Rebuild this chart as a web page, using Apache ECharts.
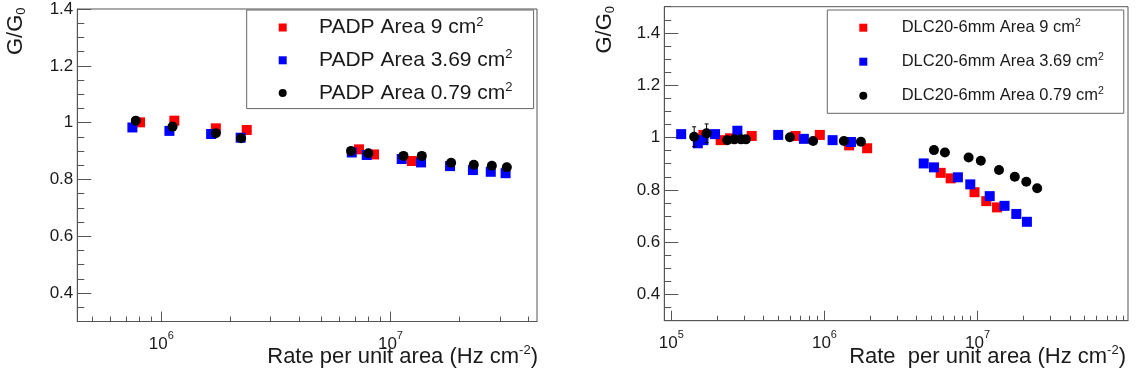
<!DOCTYPE html>
<html><head><meta charset="utf-8">
<script src="https://cdn.jsdelivr.net/npm/echarts@6/dist/echarts.min.js"></script>
<style>html,body{margin:0;padding:0;background:#fff}#c{width:1136px;height:379px}</style>
</head><body><div id="c"></div>
<script>
// ---------- data ----------
const padpNames = ['PADP Area 9 cm²', 'PADP Area 3.69 cm²', 'PADP Area 0.79 cm²'];
const padpRate9   = [8.08e5, 1.14e6, 1.73e6, 2.36e6, 7.29e6, 8.48e6, 1.24e7];
const padpGain9   = [1.001, 1.007, 0.980, 0.974, 0.906, 0.888, 0.865];
const padpRate369 = [7.48e5, 1.085e6, 1.65e6, 2.22e6, 6.78e6, 7.88e6, 1.12e7, 1.36e7, 1.82e7, 2.29e7, 2.74e7, 3.18e7];
const padpGain369 = [0.983, 0.971, 0.960, 0.947, 0.895, 0.886, 0.872, 0.860, 0.847, 0.833, 0.827, 0.822];
const padpRate079 = [7.74e5, 1.12e6, 1.73e6, 2.23e6, 6.73e6, 8.01e6, 1.14e7, 1.37e7, 1.84e7, 2.31e7, 2.77e7, 3.22e7];
const padpGain079 = [1.007, 0.986, 0.963, 0.945, 0.900, 0.892, 0.883, 0.883, 0.859, 0.852, 0.848, 0.843];

const dlcNames = ['DLC20-6mm Area 9 cm²', 'DLC20-6mm Area 3.69 cm²', 'DLC20-6mm Area 0.79 cm²'];
const dlcRate9   = [1.62e5, 2.10e5, 2.42e5, 3.35e5, 6.48e5, 9.33e5, 1.45e6, 1.90e6, 5.74e6, 6.67e6, 9.55e6, 1.14e7, 1.34e7];
const dlcGain9   = [1.010, 0.990, 0.997, 1.006, 1.006, 1.010, 0.970, 0.959, 0.865, 0.844, 0.791, 0.757, 0.733];
const dlcRate369 = [1.16e5, 1.49e5, 1.62e5, 1.93e5, 2.70e5, 4.99e5, 7.34e5, 1.13e6, 1.49e6, 4.45e6, 5.19e6, 7.44e6, 8.96e6, 1.20e7, 1.50e7, 1.79e7, 2.10e7];
const dlcGain369 = [1.013, 0.978, 0.990, 1.013, 1.026, 1.010, 0.995, 0.990, 0.983, 0.901, 0.886, 0.848, 0.821, 0.776, 0.739, 0.708, 0.678];
const dlcRate079 = [1.41e5, 1.70e5, 2.32e5, 2.58e5, 2.85e5, 3.07e5, 5.95e5, 8.43e5, 1.34e6, 1.73e6, 5.19e6, 6.12e6, 8.74e6, 1.05e7, 1.38e7, 1.75e7, 2.08e7, 2.45e7];
const dlcGain079 = [1.003, 1.016, 0.990, 0.993, 0.993, 0.993, 1.001, 0.987, 0.987, 0.984, 0.952, 0.943, 0.924, 0.911, 0.876, 0.850, 0.831, 0.806];
const dlcErr079  = [0.038, 0.036, 0.012, 0.008, 0, 0, 0, 0, 0, 0, 0, 0, 0, 0, 0, 0, 0, 0];

// ---------- axis ticks & titles ----------
const leftXRange = [4.3e5, 4.36e7];
const rightXRange = [9.0e4, 9.6e7];
const leftYRange = [0.3, 1.4];
const rightYRange = [0.3, 1.5];
const leftXMajor = [1e6, 1e7];
const leftXMinor = [5e5, 6e5, 7e5, 8e5, 9e5, 2e6, 3e6, 4e6, 5e6, 6e6, 7e6, 8e6, 9e6, 2e7, 3e7, 4e7];
const rightXMajor = [1e5, 1e6, 1e7];
const rightXMinor = [2e5, 3e5, 4e5, 5e5, 6e5, 7e5, 8e5, 9e5, 2e6, 3e6, 4e6, 5e6, 6e6, 7e6, 8e6, 9e6, 2e7, 3e7, 4e7, 5e7, 6e7, 7e7, 8e7, 9e7];
const leftYMajor = [0.4, 0.6, 0.8, 1, 1.2, 1.4];
const rightYMajor = [0.4, 0.6, 0.8, 1, 1.2, 1.4];
const leftYMinor = [0.3, 0.35, 0.45, 0.5, 0.55, 0.65, 0.7, 0.75, 0.85, 0.9, 0.95, 1.05, 1.1, 1.15, 1.25, 1.3, 1.35];
const rightYMinor = [0.3, 0.35, 0.45, 0.5, 0.55, 0.65, 0.7, 0.75, 0.85, 0.9, 0.95, 1.05, 1.1, 1.15, 1.25, 1.3, 1.35, 1.45, 1.5];
const xTitleLeft = 'Rate per unit area (Hz cm{sup|-2})';
const xTitleRight = 'Rate  per unit area (Hz cm{sup|-2})';
const yTitle = 'G/G{sub|0}';

// ---------- styling ----------
const FONT = "'Liberation Sans', Arial, Helvetica, sans-serif";
const TXT = '#1a1a1a';
const AX = '#555';
const COLORS = ['#ff0000', '#0000ff', '#000000'];

function zip(xs, ys) { return xs.map((x, i) => [x, ys[i]]); }
function supLegend(n) { return n.replace('²', '{sup|2}'); }
function powLabel(v) { return '{b|10}{s|' + Math.round(Math.log10(v)) + '}'; }
function yLab(v) { return String(parseFloat(Number(v).toFixed(2))); }

const tickRich = {
  b: { fontSize: 17, fontFamily: FONT, color: TXT, lineHeight: 22, verticalAlign: 'bottom' },
  s: { fontSize: 11, fontFamily: FONT, color: TXT, lineHeight: 11, verticalAlign: 'top' }
};
function xTitle(text, right) {
  return {
    text: text, right: right, top: 344, padding: 0, itemGap: 0,
    textStyle: {
      fontSize: 22, fontWeight: 'normal', fontFamily: FONT, color: TXT, lineHeight: 26,
      rich: { sup: { fontSize: 13, fontFamily: FONT, color: TXT, lineHeight: 12, verticalAlign: 'top' } }
    }
  };
}
function yTitleGraphic(x, y) {
  return {
    type: 'text', x: x, y: y, rotation: Math.PI / 2, silent: true,
    style: {
      text: yTitle, align: 'right', verticalAlign: 'bottom',
      fontSize: 22, fontFamily: FONT, fill: TXT, lineHeight: 24,
      rich: { sub: { fontSize: 13, fontFamily: FONT, fill: TXT, lineHeight: 14, verticalAlign: 'bottom' } }
    }
  };
}

function mainX(gi, range, major) {
  return {
    type: 'log', logBase: 10, gridIndex: gi, min: range[0], max: range[1], position: 'bottom', offset: 0,
    axisLine: { show: true, lineStyle: { color: AX, width: 1 } },
    axisTick: { show: true, inside: true, length: 10, customValues: major, lineStyle: { color: AX } },
    axisLabel: { show: true, customValues: major, margin: 9, formatter: powLabel, rich: tickRich },
    splitLine: { show: false }, minorTick: { show: false }
  };
}
function minorX(gi, range, minor) {
  return {
    type: 'log', logBase: 10, gridIndex: gi, min: range[0], max: range[1], position: 'bottom', offset: 0,
    axisLine: { show: false },
    axisTick: { show: true, inside: true, length: 5, customValues: minor, lineStyle: { color: AX } },
    axisLabel: { show: false }, splitLine: { show: false }
  };
}
function mainY(gi, range, major) {
  return {
    type: 'value', gridIndex: gi, min: range[0], max: range[1], position: 'left', offset: 0,
    axisLine: { show: true, lineStyle: { color: AX, width: 1 } },
    axisTick: { show: true, inside: true, length: 14, customValues: major, lineStyle: { color: AX } },
    axisLabel: { show: true, customValues: major, margin: 4, formatter: yLab, fontSize: 17, fontFamily: FONT, color: TXT },
    splitLine: { show: false }
  };
}
function minorY(gi, range, minor) {
  return {
    type: 'value', gridIndex: gi, min: range[0], max: range[1], position: 'left', offset: 0,
    axisLine: { show: false },
    axisTick: { show: true, inside: true, length: 7, customValues: minor, lineStyle: { color: AX } },
    axisLabel: { show: false }, splitLine: { show: false }
  };
}
function scatter(name, xi, yi, data, ci) {
  return {
    type: 'scatter', name: name, xAxisIndex: xi, yAxisIndex: yi, data: data,
    symbol: ci === 2 ? 'circle' : 'rect', symbolSize: 10,
    itemStyle: { color: COLORS[ci], opacity: 1 }, z: 3 + ci, silent: true
  };
}
function legendCfg(names, left, top, fontSize, lineH, gap, pad, textGap, supSize) {
  return {
    orient: 'vertical', left: left, top: top, itemWidth: 8, itemHeight: 8, itemGap: gap,
    padding: pad, borderColor: '#666', borderWidth: 1, backgroundColor: '#fff',
    data: names.map((n, i) => ({ name: n, icon: i === 2 ? 'circle' : 'rect' })),
    formatter: supLegend, selectedMode: false,
    textStyle: {
      fontSize: fontSize, fontFamily: FONT, color: TXT, lineHeight: lineH, padding: [0, 0, 0, textGap],
      rich: { sup: { fontSize: supSize, fontFamily: FONT, color: TXT, lineHeight: 10, verticalAlign: 'top' } }
    }
  };
}

const errData = dlcRate079.map((x, i) => [x, dlcGain079[i], dlcErr079[i]]).filter(d => d[2] > 0);

const option = {
  animation: false,
  backgroundColor: '#fff',
  textStyle: { fontFamily: FONT },
  title: [xTitle(xTitleLeft, 1136 - 538), xTitle(xTitleRight, 1136 - 1126)],
  graphic: [yTitleGraphic(27.7, 7.5), yTitleGraphic(617, 6)],
  grid: [
    { left: 77.3, right: 1136 - 537, top: 9, bottom: 57.5, show: true, borderColor: AX, borderWidth: 1, outerBoundsMode: 'none' },
    { left: 664.3, right: 1136 - 1128, top: 6.7, bottom: 58.3, show: true, borderColor: AX, borderWidth: 1, outerBoundsMode: 'none' }
  ],
  xAxis: [
    mainX(0, leftXRange, leftXMajor),
    minorX(0, leftXRange, leftXMinor),
    mainX(1, rightXRange, rightXMajor),
    minorX(1, rightXRange, rightXMinor)
  ],
  yAxis: [
    mainY(0, leftYRange, leftYMajor),
    minorY(0, leftYRange, leftYMinor),
    mainY(1, rightYRange, rightYMajor),
    minorY(1, rightYRange, rightYMinor)
  ],
  legend: [
    legendCfg(padpNames, 246.7, 10, 21, 24, 8.8, [5.5, 21, 3.5, 32], 27.3, 13),
    legendCfg(dlcNames, 827.3, 10, 16.5, 20, 14, [7.7, 20, 7.6, 32], 29.4, 10.5)
  ],
  series: [
    scatter(padpNames[0], 0, 0, zip(padpRate9, padpGain9), 0),
    scatter(padpNames[1], 0, 0, zip(padpRate369, padpGain369), 1),
    scatter(padpNames[2], 0, 0, zip(padpRate079, padpGain079), 2),
    scatter(dlcNames[0], 2, 2, zip(dlcRate9, dlcGain9), 0),
    scatter(dlcNames[1], 2, 2, zip(dlcRate369, dlcGain369), 1),
    {
      type: 'custom', name: 'err', xAxisIndex: 2, yAxisIndex: 2, data: errData, z: 5, silent: true,
      renderItem: function (params, api) {
        const x = api.value(0), y = api.value(1), e = api.value(2);
        const top = api.coord([x, y + e]);
        const bot = api.coord([x, y - e]);
        const st = { stroke: '#000', lineWidth: 1 };
        return {
          type: 'group', children: [
            { type: 'line', shape: { x1: top[0], y1: top[1], x2: bot[0], y2: bot[1] }, style: st },
            { type: 'line', shape: { x1: top[0] - 2, y1: top[1], x2: top[0] + 2, y2: top[1] }, style: st },
            { type: 'line', shape: { x1: bot[0] - 2, y1: bot[1], x2: bot[0] + 2, y2: bot[1] }, style: st }
          ]
        };
      }
    },
    scatter(dlcNames[2], 2, 2, zip(dlcRate079, dlcGain079), 2)
  ]
};

const chart = echarts.init(document.getElementById('c'), null, { renderer: 'canvas' });
chart.setOption(option);
</script></body></html>
